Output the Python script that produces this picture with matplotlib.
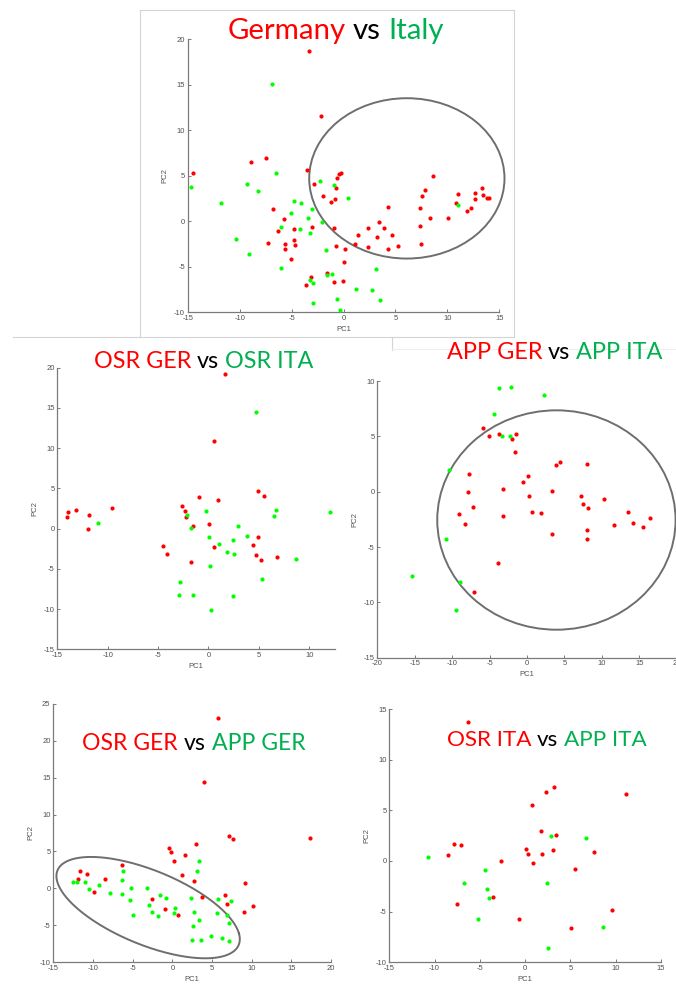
import matplotlib
matplotlib.use('Agg')
import matplotlib.pyplot as plt
import numpy as np
from matplotlib.patches import Ellipse
from matplotlib.lines import Line2D

plt.rcParams['axes.unicode_minus'] = False

W, H = 676, 994
TITLE_FONT = 'Lato'
TICK_FONT = 'Liberation Sans'
RED = '#FF0000'
GREEN_PT = '#00FF00'
GREEN_TXT = '#00B050'

# ---------------- data ----------------
# Panel 1: Germany vs Italy
gi_red_x = [-14.5, -3.3, -2.2, -7.5, -8.9, -3.5, -2.8, -0.4, -0.2, -0.6, -0.7, -2.0, -1.2, -0.85, -6.8, -3.0,
            -5.7, -6.3, -4.8, -7.3, -5.6, -5.6, -4.8, -4.7, -5.1, -0.95, -0.7, 0.1, 0.0, -0.05, -0.95, -1.55,
            -3.15, -3.6, 1.1, 1.4, 2.35, 2.4, 3.25, 3.4, 3.9, 4.3, 4.7, 4.3, 5.2, 7.35, 7.4, 7.5, 7.6, 7.85,
            8.35, 8.65, 10.05, 10.8, 11.05, 11.9, 12.3, 12.7, 12.65, 13.3, 13.45, 13.85, 14.05]
gi_red_y = [5.3, 18.7, 11.5, 6.9, 6.5, 5.6, 4.05, 5.2, 5.25, 4.7, 3.6, 2.8, 2.1, 2.4, 1.35, -0.6,
            0.2, -1.1, -0.9, -2.35, -2.5, -3.0, -2.05, -2.65, -4.15, -0.75, -2.7, -3.0, -4.5, -6.55, -6.7, -5.7,
            -6.1, -7.05, -2.5, -1.55, -2.8, -0.7, -1.7, -0.1, -0.75, 1.6, -1.5, -3.0, -2.7, 1.4, -0.5, -2.5, 2.8, 3.45,
            0.4, 4.95, 0.4, 2.0, 3.0, 1.1, 1.4, 3.1, 2.4, 3.6, 2.85, 2.5, 2.6]
gi_green_x = [-14.7, -11.75, -10.35, -9.1, -9.3, -8.2, -6.85, -6.5, -6.05, -6.05, -5.05, -4.75, -4.1, -4.15,
              -3.45, -3.25, -3.0, -2.25, -2.05, -0.95, 0.45, -1.7, -1.55, -1.1, -3.2, -2.95, -2.95, -0.6, -0.35,
              1.2, 2.75, 3.15, 3.5, 11.05]
gi_green_y = [3.8, 1.95, -1.9, -3.65, 4.1, 3.3, 15.1, 5.25, -0.6, -5.1, 0.9, 2.2, 2.05, -0.9,
              0.4, -1.35, 1.3, 4.4, -0.05, 4.0, 2.55, -3.2, -5.95, -5.85, -6.5, -6.75, -9.0, -8.55, -9.7,
              -7.4, -7.5, -5.2, -8.6, 1.8]

# Panel 2: OSR GER vs OSR ITA
oo_red_x = [-14.0, -13.95, -13.1, -11.9, -12.0, -9.6, 1.67, 0.5, -0.9, 0.9, 4.94, 5.47, -2.67, -2.37, -2.27,
            -1.54, 0.01, -4.48, -4.09, -1.74, 0.51, 4.94, 4.38, 4.74, 5.2, 6.76]
oo_red_y = [1.44, 2.06, 2.3, 1.7, -0.05, 2.5, 19.25, 10.9, 3.97, 3.55, 4.67, 4.1, 2.77, 2.23, 1.44,
            0.36, 0.61, -2.16, -3.11, -4.19, -2.33, -1.04, -2.08, -3.24, -3.9, -3.49]
oo_green_x = [-10.97, -2.1, -1.74, -0.28, 0.01, 1.0, 2.92, 3.82, 2.39, 1.83, 2.55, 6.69, 6.46, 12.05, 8.68,
              5.34, 0.11, -2.83, -2.9, -1.54, 2.43, 0.21, 4.74]
oo_green_y = [0.74, 1.69, 0.07, 2.15, -1.04, -1.91, 0.36, -0.96, -1.37, -2.91, -3.16, 2.31, 1.52, 2.06, -3.82,
              -6.3, -4.65, -6.6, -8.25, -8.25, -8.42, -10.07, 14.53]

# Panel 3: APP GER vs APP ITA
aa_red_x = [-5.89, -5.13, -3.79, -2.06, -1.52, -1.66, -7.8, -7.89, -7.18, -9.09, -8.33, -3.17, -3.21, -3.93,
            -7.04, -0.59, 0.17, 0.26, 0.66, 1.9, 3.29, 3.38, 3.86, 4.4, 7.25, 7.52, 8.0, 8.18, 8.0, 8.0, 10.32,
            11.57, 13.48, 14.1, 15.53, 16.46]
aa_red_y = [5.75, 5.06, 5.24, 4.79, 5.18, 3.61, 1.6, 0.0, -1.39, -2.05, -2.95, 0.21, -2.23, -6.45,
            -9.1, 0.87, 1.42, -0.39, -1.84, -1.93, 0.09, -3.86, 2.44, 2.71, -0.39, -1.11, 2.5, -1.51, -3.46, -4.25,
            -0.69, -3.01, -1.81, -2.8, -3.19, -2.41]
aa_green_x = [-3.75, -2.19, 2.31, -4.42, -3.39, -2.32, -10.47, -10.78, -15.33, -8.96, -9.54]
aa_green_y = [9.4, 9.43, 8.77, 7.05, 5.06, 5.06, 1.96, -4.31, -7.65, -8.16, -10.66]

# Panel 4: OSR GER vs APP GER
og_red_x = [5.76, 3.99, 7.18, 7.65, 17.31, 2.94, -0.46, -0.13, 0.17, 1.64, -6.39, -11.64, -10.76, -11.85,
            -8.45, -9.87, 1.22, 2.77, 9.16, 3.78, 6.68, 6.93, -2.56, -0.97, 0.76, 9.03, 10.13]
og_red_y = [23.1, 14.45, 7.14, 6.73, 6.82, 6.06, 5.42, 4.93, 3.71, 4.48, 3.12, 2.36, 2.0, 1.32,
            1.32, -0.44, 1.86, 1.05, 0.78, -1.16, -0.85, -2.15, -1.43, -2.74, -3.55, -3.15, -2.38]
og_green_x = [-12.48, -11.97, -10.97, -10.46, -9.24, -7.9, -6.22, -6.39, -6.39, -5.17, -5.34, -5.0, -3.24,
              -2.94, -2.52, -1.85, -1.55, -0.8, 0.29, 0.17, 3.36, 3.15, 2.35, 2.77, 3.32, 2.56, 2.48, 3.57,
              4.87, 6.22, 7.14, 5.76, 7.39, 5.67, 6.85, 7.1]
og_green_y = [0.87, 0.87, 0.82, -0.08, 0.51, -0.58, 2.31, 1.14, -0.8, 0.01, -1.52, -3.55, 0.01,
              -2.24, -3.24, -3.78, -0.85, -1.25, -2.6, -3.33, 3.76, 2.31, -1.34, -3.24, -4.23, -5.04, -6.98, -6.98,
              -6.48, -6.75, -7.12, -1.39, -1.66, -3.33, -3.64, -4.63]

# Panel 5: OSR ITA vs APP ITA
oi_red_x = [-6.31, 3.14, 2.26, 0.75, 11.13, 1.78, 3.44, -7.86, -7.05, -8.49, 0.05, 0.27, 1.86, 3.07, 0.86,
            -2.63, 7.64, 5.5, -3.55, -7.57, -0.68, 5.06, 9.59]
oi_red_y = [13.75, 7.27, 6.78, 5.49, 6.61, 2.99, 2.57, 1.71, 1.61, 0.56, 1.15, 0.66, 0.72, 1.05, -0.23,
            0.03, 0.92, -0.76, -3.55, -4.21, -5.76, -6.64, -4.8]
oi_green_x = [-10.69, 2.81, 6.68, -4.44, -6.79, -4.18, -3.96, 2.45, -5.21, 8.63, 2.52]
oi_green_y = [0.36, 2.43, 2.3, -0.86, -2.2, -2.76, -3.65, -2.14, -5.69, -6.51, -8.55]

# Ellipses (data units)
ell1_center, ell1_size = (6.1, 4.7), (18.8, 17.6)
ell3_center, ell3_size = (3.93, -2.56), (31.84, 19.82)
ell4_center = (-3.05, -2.6)
ell4_major = (11.45, -3.5)   # conjugate semi-axis vector
ell4_minor = (-1.57, 5.9)

# ---------------- figure ----------------
fig = plt.figure(figsize=(W / 100, H / 100), dpi=100)
fig.patch.set_facecolor('white')
renderer = fig.canvas.get_renderer()


def line_px(x1, y1, x2, y2, color='#d4d4d4', lw=0.8):
    fig.add_artist(Line2D([x1 / W, x2 / W], [1 - y1 / H, 1 - y2 / H], transform=fig.transFigure,
                          color=color, lw=lw))


# light frame lines of the pasted screenshots
line_px(140, 10, 514, 10)
line_px(140, 10, 140, 337)
line_px(514, 10, 514, 337)
line_px(13, 337, 514, 337)
line_px(392, 337, 392, 350)
line_px(392, 349, 676, 349, color='#eeeeee')


def px_axes(l, r, t, b):
    ax = fig.add_axes([l / W, 1 - b / H, (r - l) / W, (b - t) / H])
    ax.patch.set_alpha(0)
    return ax


def style(ax, xlim, ylim, xticks, yticks, xlp=2.5, ylp=4):
    ax.set_xlim(*xlim)
    ax.set_ylim(*ylim)
    ax.set_xticks(xticks)
    ax.set_yticks(yticks)
    for s in ['top', 'right']:
        ax.spines[s].set_visible(False)
    for s in ['left', 'bottom']:
        ax.spines[s].set_color('#7a7a7a')
        ax.spines[s].set_linewidth(0.9)
    ax.tick_params(direction='in', length=2.5, width=0.7, color='#7a7a7a', labelsize=5.5,
                   labelcolor='#505050', pad=2)
    for lab in ax.get_xticklabels() + ax.get_yticklabels():
        lab.set_family(TICK_FONT)
    ax.set_xlabel('PC1', fontsize=5.5, color='#505050', labelpad=xlp, family=TICK_FONT)
    ax.set_ylabel('PC2', fontsize=5.5, color='#505050', labelpad=ylp, family=TICK_FONT)


def pts(ax, rx, ry, gx, gy):
    ax.plot(rx, ry, 'o', color=RED, ms=3, mew=0, clip_on=False, zorder=3)
    ax.plot(gx, gy, 'o', color=GREEN_PT, ms=3, mew=0, clip_on=False, zorder=3)


def text_w(s, fs):
    t = fig.text(0, 0, s, fontsize=fs, family=TITLE_FONT)
    w = t.get_window_extent(renderer).width
    t.remove()
    return w


def ctitle(left, right, baseline, parts):
    base = 20
    sp = text_w('x x', base) - text_w('xx', base)
    widths = [text_w(s, base) for s, _ in parts]
    total = sum(widths) + sp * (len(parts) - 1)
    fs = base * (right - left) / total
    sc = fs / base
    x = left
    for (s, c), wd in zip(parts, widths):
        fig.text(x / W, 1 - baseline / H, s, fontsize=fs, family=TITLE_FONT, color=c,
                 va='baseline', ha='left', zorder=5)
        x += (wd + sp) * sc


ELL_COLOR = '#6e6e6e'

# Panel 1
ax1 = px_axes(187.7, 499.3, 39, 312.3)
style(ax1, (-15, 15), (-10, 20), range(-15, 16, 5), range(-10, 21, 5))
pts(ax1, gi_red_x, gi_red_y, gi_green_x, gi_green_y)
ax1.add_patch(Ellipse(ell1_center, *ell1_size, fill=False, ec=ELL_COLOR, lw=1.4, clip_on=False))

# Panel 2
ax2 = px_axes(57.3, 335, 367.7, 649.3)
style(ax2, (-15, 12.55), (-15, 20), range(-15, 11, 5), range(-15, 21, 5))
pts(ax2, oo_red_x, oo_red_y, oo_green_x, oo_green_y)

# Panel 3
ax3 = px_axes(377.3, 676.7, 381, 657.7)
style(ax3, (-20, 20), (-15, 10), range(-20, 21, 5), range(-15, 11, 5))
pts(ax3, aa_red_x, aa_red_y, aa_green_x, aa_green_y)
ax3.add_patch(Ellipse(ell3_center, *ell3_size, fill=False, ec=ELL_COLOR, lw=1.4, clip_on=False))

# Panel 4
ax4 = px_axes(53.3, 331, 703.7, 962.3)
style(ax4, (-15, 20), (-10, 25), range(-15, 21, 5), range(-10, 26, 5))
pts(ax4, og_red_x, og_red_y, og_green_x, og_green_y)
t = np.linspace(0, 2 * np.pi, 300)
ex = ell4_center[0] + np.cos(t) * ell4_major[0] + np.sin(t) * ell4_minor[0]
ey = ell4_center[1] + np.cos(t) * ell4_major[1] + np.sin(t) * ell4_minor[1]
ax4.plot(ex, ey, color=ELL_COLOR, lw=1.4, clip_on=False)

# Panel 5
ax5 = px_axes(389.3, 661, 709, 962.3)
style(ax5, (-15, 15), (-10, 15), range(-15, 16, 5), range(-10, 16, 5))
pts(ax5, oi_red_x, oi_red_y, oi_green_x, oi_green_y)

# Titles
ctitle(227.3, 444, 39.3, [('Germany', RED), ('vs', 'black'), ('Italy', GREEN_TXT)])
ctitle(93.7, 313.3, 368.3, [('OSR GER', RED), ('vs', 'black'), ('OSR ITA', GREEN_TXT)])
ctitle(446.7, 662.7, 359.3, [('APP GER', RED), ('vs', 'black'), ('APP ITA', GREEN_TXT)])
ctitle(82.3, 305, 750, [('OSR GER', RED), ('vs', 'black'), ('APP GER', GREEN_TXT)])
ctitle(446.7, 646.7, 746, [('OSR ITA', RED), ('vs', 'black'), ('APP ITA', GREEN_TXT)])

fig.savefig('out.png', dpi=100, facecolor='white')
